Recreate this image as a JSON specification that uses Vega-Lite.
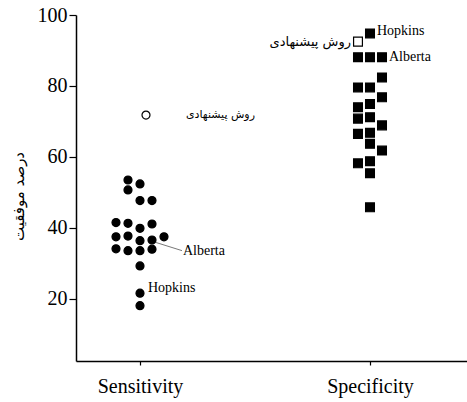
{
  "$schema": "https://vega.github.io/schema/vega-lite/v6.json",
  "width": 391,
  "height": 346,
  "autosize": {"type": "none"},
  "padding": {"left": 76, "top": 15, "right": 0, "bottom": 41},
  "background": "white",
  "config": {"view": {"stroke": null}},
  "data": {
    "values": [
      {"measure": "Sensitivity", "col": -1, "value": 53.5, "method": "other", "label": ""},
      {"measure": "Sensitivity", "col": 0, "value": 52.4, "method": "other", "label": ""},
      {"measure": "Sensitivity", "col": -1, "value": 50.7, "method": "other", "label": ""},
      {"measure": "Sensitivity", "col": 0, "value": 47.7, "method": "other", "label": ""},
      {"measure": "Sensitivity", "col": 1, "value": 47.7, "method": "other", "label": ""},
      {"measure": "Sensitivity", "col": -2, "value": 41.5, "method": "other", "label": ""},
      {"measure": "Sensitivity", "col": -1, "value": 41.3, "method": "other", "label": ""},
      {"measure": "Sensitivity", "col": 0, "value": 39.9, "method": "other", "label": ""},
      {"measure": "Sensitivity", "col": 1, "value": 41.1, "method": "other", "label": ""},
      {"measure": "Sensitivity", "col": -2, "value": 37.5, "method": "other", "label": ""},
      {"measure": "Sensitivity", "col": -1, "value": 37.7, "method": "other", "label": ""},
      {"measure": "Sensitivity", "col": 0, "value": 36.4, "method": "other", "label": ""},
      {"measure": "Sensitivity", "col": 1, "value": 36.6, "method": "other", "label": "Alberta"},
      {"measure": "Sensitivity", "col": 2, "value": 37.5, "method": "other", "label": ""},
      {"measure": "Sensitivity", "col": -2, "value": 34.1, "method": "other", "label": ""},
      {"measure": "Sensitivity", "col": -1, "value": 33.6, "method": "other", "label": ""},
      {"measure": "Sensitivity", "col": 0, "value": 33.6, "method": "other", "label": ""},
      {"measure": "Sensitivity", "col": 1, "value": 34.0, "method": "other", "label": ""},
      {"measure": "Sensitivity", "col": 0, "value": 29.3, "method": "other", "label": ""},
      {"measure": "Sensitivity", "col": 0, "value": 21.6, "method": "other", "label": "Hopkins"},
      {"measure": "Sensitivity", "col": 0, "value": 18.1, "method": "other", "label": ""},
      {"measure": "Sensitivity", "col": 0.5, "value": 71.8, "method": "proposed", "label": "روش پیشنهادی"},
      {"measure": "Specificity", "col": 0, "value": 94.8, "method": "other", "label": "Hopkins"},
      {"measure": "Specificity", "col": -1, "value": 92.5, "method": "proposed", "label": "روش پیشنهادی"},
      {"measure": "Specificity", "col": -1, "value": 88.1, "method": "other", "label": ""},
      {"measure": "Specificity", "col": 0, "value": 88.1, "method": "other", "label": ""},
      {"measure": "Specificity", "col": 1, "value": 88.1, "method": "other", "label": "Alberta"},
      {"measure": "Specificity", "col": 1, "value": 82.4, "method": "other", "label": ""},
      {"measure": "Specificity", "col": -1, "value": 79.6, "method": "other", "label": ""},
      {"measure": "Specificity", "col": 0, "value": 79.6, "method": "other", "label": ""},
      {"measure": "Specificity", "col": 1, "value": 76.8, "method": "other", "label": ""},
      {"measure": "Specificity", "col": -1, "value": 74.0, "method": "other", "label": ""},
      {"measure": "Specificity", "col": 0, "value": 74.9, "method": "other", "label": ""},
      {"measure": "Specificity", "col": -1, "value": 70.8, "method": "other", "label": ""},
      {"measure": "Specificity", "col": 0, "value": 71.2, "method": "other", "label": ""},
      {"measure": "Specificity", "col": 1, "value": 68.9, "method": "other", "label": ""},
      {"measure": "Specificity", "col": -1, "value": 66.5, "method": "other", "label": ""},
      {"measure": "Specificity", "col": 0, "value": 66.8, "method": "other", "label": ""},
      {"measure": "Specificity", "col": 0, "value": 63.7, "method": "other", "label": ""},
      {"measure": "Specificity", "col": 1, "value": 61.8, "method": "other", "label": ""},
      {"measure": "Specificity", "col": -1, "value": 58.2, "method": "other", "label": ""},
      {"measure": "Specificity", "col": 0, "value": 58.8, "method": "other", "label": ""},
      {"measure": "Specificity", "col": 0, "value": 55.4, "method": "other", "label": ""},
      {"measure": "Specificity", "col": 0, "value": 45.8, "method": "other", "label": ""}
    ]
  },
  "encoding": {
    "x": {
      "field": "measure",
      "type": "nominal",
      "sort": ["Sensitivity", "Specificity"],
      "scale": {"type": "point", "domain": ["Sensitivity", "Specificity"], "padding": 0.35, "align": 0.3975},
      "axis": {
        "title": null,
        "labelAngle": 0,
        "labelFont": "Liberation Serif",
        "labelFontSize": 20,
        "labelColor": "black",
        "labelPadding": 11,
        "domainColor": "black",
        "domainWidth": 1.5,
        "tickColor": "black",
        "tickWidth": 1.2,
        "tickSize": 4,
        "grid": false
      }
    },
    "xOffset": {"field": "col", "type": "quantitative", "scale": {"domain": [-2, 2], "range": [-24, 24]}},
    "y": {
      "field": "value",
      "type": "quantitative",
      "scale": {"domain": [2.5, 100], "nice": false, "zero": false},
      "axis": {
        "title": "درصد موفقیت",
        "titleFont": "DejaVu Sans",
        "titleFontSize": 15,
        "titleFontWeight": "normal",
        "titleColor": "black",
        "titleX": -58,
        "titleY": 181,
        "titleAlign": "center",
        "titleBaseline": "middle",
        "values": [20, 40, 60, 80, 100],
        "labelFont": "Liberation Serif",
        "labelFontSize": 20,
        "labelColor": "black",
        "labelPadding": 2,
        "domainColor": "black",
        "domainWidth": 1.5,
        "tickColor": "black",
        "tickWidth": 1.2,
        "tickSize": 7,
        "grid": false
      }
    }
  },
  "layer": [
    {
      "data": {"values": [
        {"measure": "Sensitivity", "col": 1.33, "value": 35.9},
        {"measure": "Sensitivity", "col": 3.5, "value": 33.6}
      ]},
      "mark": {"type": "line", "color": "#555555", "strokeWidth": 0.8},
      "encoding": {}
    },
    {
      "mark": {"type": "point", "filled": true, "stroke": "black", "strokeWidth": 1.2, "opacity": 1},
      "encoding": {
        "shape": {"field": "measure", "type": "nominal", "scale": {"domain": ["Sensitivity", "Specificity"], "range": ["circle", "square"]}, "legend": null},
        "size": {"field": "measure", "type": "nominal", "scale": {"domain": ["Sensitivity", "Specificity"], "range": [64, 78]}, "legend": null},
        "fill": {"field": "method", "type": "nominal", "scale": {"domain": ["other", "proposed"], "range": ["black", "white"]}, "legend": null}
      }
    },
    {
      "transform": [{"filter": "datum.measure == 'Sensitivity' && datum.label == 'Hopkins'"}],
      "mark": {"type": "text", "align": "left", "baseline": "middle", "dx": 8, "dy": -5, "font": "Liberation Serif", "fontSize": 14, "color": "black"},
      "encoding": {"text": {"field": "label"}}
    },
    {
      "transform": [{"filter": "datum.measure == 'Sensitivity' && datum.label == 'Alberta'"}],
      "mark": {"type": "text", "align": "left", "baseline": "middle", "dx": 31, "dy": 11, "font": "Liberation Serif", "fontSize": 14, "color": "black"},
      "encoding": {"text": {"field": "label"}}
    },
    {
      "transform": [{"filter": "datum.measure == 'Sensitivity' && datum.method == 'proposed'"}],
      "mark": {"type": "text", "align": "left", "baseline": "middle", "dx": 40, "dy": 0, "font": "DejaVu Sans", "fontSize": 11, "color": "black"},
      "encoding": {"text": {"field": "label"}}
    },
    {
      "transform": [{"filter": "datum.measure == 'Specificity' && datum.label == 'Hopkins'"}],
      "mark": {"type": "text", "align": "left", "baseline": "middle", "dx": 7, "dy": -2, "font": "Liberation Serif", "fontSize": 14, "color": "black"},
      "encoding": {"text": {"field": "label"}}
    },
    {
      "transform": [{"filter": "datum.measure == 'Specificity' && datum.label == 'Alberta'"}],
      "mark": {"type": "text", "align": "left", "baseline": "middle", "dx": 7, "dy": 0, "font": "Liberation Serif", "fontSize": 14, "color": "black"},
      "encoding": {"text": {"field": "label"}}
    },
    {
      "transform": [{"filter": "datum.measure == 'Specificity' && datum.method == 'proposed'"}],
      "mark": {"type": "text", "align": "right", "baseline": "middle", "dx": -7, "dy": 0, "font": "DejaVu Sans", "fontSize": 13, "color": "black"},
      "encoding": {"text": {"field": "label"}}
    }
  ]
}
